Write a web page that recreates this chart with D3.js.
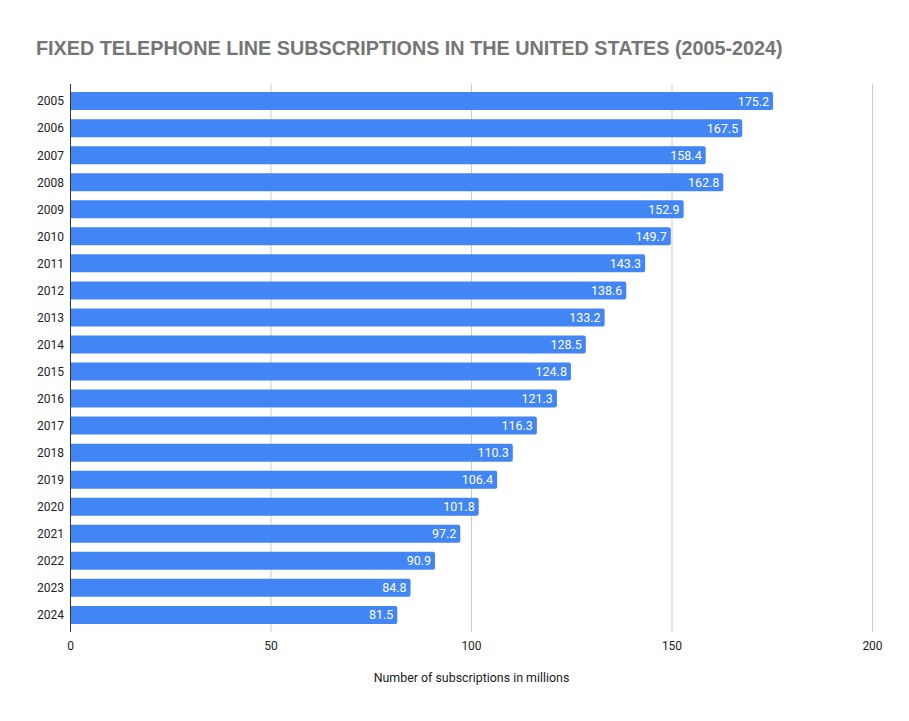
<!DOCTYPE html>
<html lang="en">

<head>
    <meta charset="UTF-8">
    <title>Fixed telephone line subscriptions</title>
    <script src="https://d3js.org/d3.v7.min.js"></script>
    <style>
        body { margin: 0; background: #fff; }
    </style>
</head>

<body>

    <script>
        var years = ["2005", "2006", "2007", "2008", "2009", "2010", "2011", "2012", "2013", "2014",
            "2015", "2016", "2017", "2018", "2019", "2020", "2021", "2022", "2023", "2024"];
        var subscriptions = [175.2, 167.5, 158.4, 162.8, 152.9, 149.7, 143.3, 138.6, 133.2, 128.5,
            124.8, 121.3, 116.3, 110.3, 106.4, 101.8, 97.2, 90.9, 84.8, 81.5];
        var xTicks = [0, 50, 100, 150, 200];

        var width = 909;
        var height = 721;

        var data = years.map(function (y, i) {
            return { year: y, value: subscriptions[i] };
        });

        var svg = d3.select("body")
            .append("svg")
            .attr("width", width)
            .attr("height", height);

        var x = d3.scaleLinear()
            .domain([0, 200])
            .range([70.5, 872.5]);

        var y = d3.scaleBand()
            .domain(years)
            .range([84, 632])
            .paddingInner(0.335)
            .paddingOuter(0.3);

        // title
        svg.append("text")
            .attr("x", 36)
            .attr("y", 55)
            .attr("font-family", "'Liberation Sans', Arial, sans-serif")
            .attr("font-weight", "bold")
            .attr("font-size", 19.8)
            .attr("fill", "#757575")
            .text("FIXED TELEPHONE LINE SUBSCRIPTIONS IN THE UNITED STATES (2005-2024)");

        // gridlines
        svg.append("g")
            .selectAll("line")
            .data(xTicks.slice(1))
            .enter()
            .append("line")
            .attr("x1", function (d) { return x(d); })
            .attr("x2", function (d) { return x(d); })
            .attr("y1", 84)
            .attr("y2", 632)
            .attr("stroke", "#cccccc")
            .attr("stroke-width", 1);

        // bars
        var bar = svg.append("g")
            .selectAll(".bar")
            .data(data)
            .enter()
            .append("g")
            .attr("class", "bar");

        bar.append("path")
            .attr("fill", "#4285f4")
            .attr("d", function (d) {
                var x0 = x(0) - 0.5, x1 = x(d.value), y0 = y(d.year), h = y.bandwidth(), r = 2;
                return "M" + x0 + "," + y0 +
                    "H" + (x1 - r) +
                    "Q" + x1 + "," + y0 + " " + x1 + "," + (y0 + r) +
                    "V" + (y0 + h - r) +
                    "Q" + x1 + "," + (y0 + h) + " " + (x1 - r) + "," + (y0 + h) +
                    "H" + x0 + "Z";
            });

        bar.append("text")
            .attr("x", function (d) { return x(d.value) - 4; })
            .attr("y", function (d) { return y(d.year) + y.bandwidth() / 2; })
            .attr("dy", "0.36em")
            .attr("text-anchor", "end")
            .attr("font-family", "Roboto, sans-serif")
            .attr("font-size", 12.5)
            .attr("fill", "#ffffff")
            .text(function (d) { return d.value.toFixed(1); });

        // y axis labels
        svg.append("g")
            .selectAll("text")
            .data(years)
            .enter()
            .append("text")
            .attr("x", 64)
            .attr("y", function (d) { return y(d) + y.bandwidth() / 2; })
            .attr("dy", "0.36em")
            .attr("text-anchor", "end")
            .attr("font-family", "Roboto, sans-serif")
            .attr("font-size", 12)
            .attr("fill", "#222222")
            .text(function (d) { return d; });

        // baseline
        svg.append("line")
            .attr("x1", x(0))
            .attr("x2", x(0))
            .attr("y1", 84)
            .attr("y2", 632)
            .attr("stroke", "#333333")
            .attr("stroke-width", 1);

        // x tick labels
        svg.append("g")
            .selectAll("text")
            .data(xTicks)
            .enter()
            .append("text")
            .attr("x", function (d) { return x(d); })
            .attr("y", 650)
            .attr("text-anchor", "middle")
            .attr("font-family", "Roboto, sans-serif")
            .attr("font-size", 12)
            .attr("fill", "#222222")
            .text(function (d) { return d; });

        // x axis title
        svg.append("text")
            .attr("x", (x(0) + x(200)) / 2)
            .attr("y", 682)
            .attr("text-anchor", "middle")
            .attr("font-family", "Roboto, sans-serif")
            .attr("font-size", 12.4)
            .attr("fill", "#222222")
            .text("Number of subscriptions in millions");
    </script>
</body>

</html>
